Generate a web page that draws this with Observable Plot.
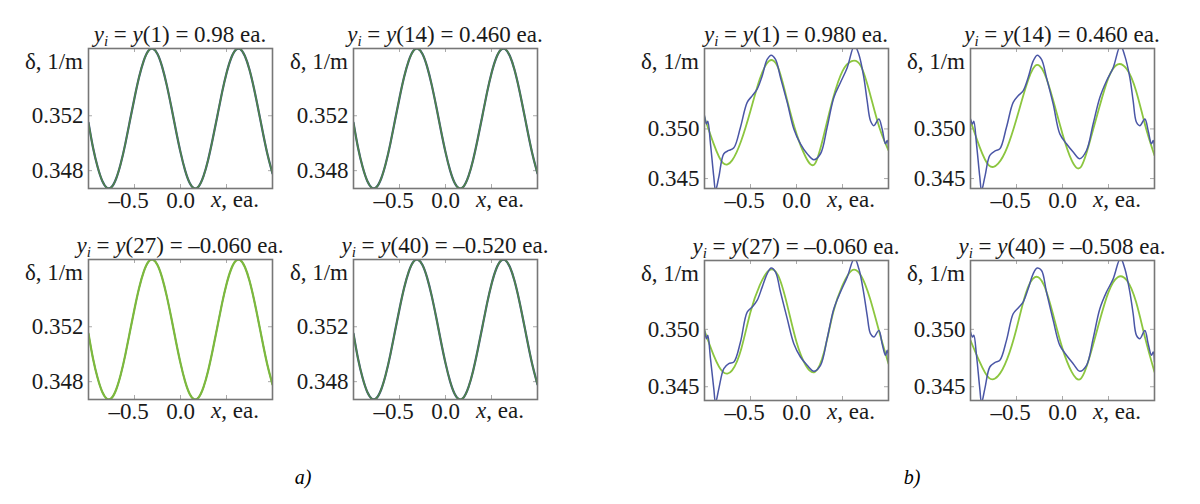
<!DOCTYPE html>
<html><head><meta charset="utf-8">
<script src="https://cdn.jsdelivr.net/npm/d3@7"></script>
<script src="https://cdn.jsdelivr.net/npm/@observablehq/plot@0.6"></script>
<style>
body{margin:0;background:#fff;}
#root{position:relative;width:1200px;height:504px;overflow:hidden;background:#fff;}
.panel{position:absolute;}
.cap{position:absolute;font-style:italic;font-size:20px;transform:translateX(-50%);}
</style></head><body><div id="root" style="font-family:'Liberation Serif'"></div>
<script>
// ---------- data ----------
const yIndex = [1, 14, 27, 40];
const yValueA = ["0.98", "0.460", "–0.060", "–0.520"];
const yValueB = ["0.980", "0.460", "–0.060", "–0.508"];
const xTicks = [-0.5, 0];
const xTickLabels = ["–0.5", "0.0"];
const aYTicks = [0.348, 0.352];
const bYTicks = [0.345, 0.350];
const aDomain = [0.3467, 0.3569];
const bTopDomain = [0.3440, 0.3581];
const bBottomDomain = [0.3438, 0.3560];

// panel a: curve (theory and solution coincide)
const aX = [-1,-0.95,-0.9,-0.85,-0.8,-0.75,-0.7,-0.65,-0.6,-0.55,-0.5,-0.45,-0.4,-0.35,-0.3,-0.25,-0.2,-0.15,-0.1,-0.05,0,0.05,0.1,0.15,0.2,0.25,0.3,0.35,0.4,0.45,0.5,0.55,0.6,0.65,0.7,0.75,0.8,0.85,0.9,0.95,1];
const aDelta = [0.35150,0.34965,0.34825,0.34725,0.34675,0.34680,0.34741,0.34850,0.34995,0.35163,0.35330,0.35482,0.35600,0.35672,0.35689,0.35650,0.35558,0.35425,0.35265,0.35095,0.34935,0.34802,0.34710,0.34671,0.34688,0.34760,0.34878,0.35030,0.35197,0.35365,0.35510,0.35619,0.35680,0.35685,0.35635,0.35535,0.35395,0.35231,0.35062,0.34906,0.34779];

// panel b: smooth (green) curves
const bGreenX = [-1,-0.9,-0.8,-0.7,-0.6,-0.5,-0.4,-0.3,-0.2,-0.1,0,0.1,0.2,0.3,0.4,0.5,0.6,0.7,0.8,0.9,1];
const b1Green = [0.35117,0.3485,0.34657,0.34683,0.34883,0.35183,0.355,0.35683,0.35617,0.35283,0.3495,0.34717,0.3465,0.3495,0.35317,0.35583,0.35683,0.35633,0.3535,0.35017,0.34783];
const b2Green = [0.35083,0.34817,0.34633,0.3465,0.34817,0.351,0.35417,0.35633,0.35567,0.35283,0.3495,0.34683,0.34617,0.34883,0.35217,0.35517,0.3565,0.356,0.35383,0.35033,0.34733];
const b3Green = [0.34991,0.34774,0.34629,0.34643,0.34832,0.35151,0.35383,0.35513,0.3547,0.35209,0.3489,0.34687,0.34629,0.34803,0.35151,0.35383,0.35513,0.3547,0.35267,0.34977,0.34701];
const b4Green = [0.34904,0.34716,0.34577,0.34594,0.34745,0.35006,0.3531,0.35455,0.35383,0.35122,0.34832,0.34629,0.34571,0.34774,0.35064,0.35325,0.35455,0.35426,0.35238,0.34919,0.34629];

// panel b: wavy (blue) curves
const bBlueX = [-1.000,-0.978,-0.964,-0.935,-0.899,-0.880,-0.844,-0.790,-0.736,-0.681,-0.609,-0.536,-0.482,-0.428,-0.373,-0.319,-0.275,-0.228,-0.174,-0.101,-0.029,0.043,0.116,0.188,0.261,0.333,0.406,0.478,0.551,0.630,0.678,0.732,0.768,0.804,0.841,0.895,0.931,0.967,0.986,1.000];
const b1Blue = [0.35133,0.3505,0.35077,0.3485,0.34517,0.3438,0.34517,0.3475,0.34783,0.3481,0.35017,0.35267,0.35333,0.354,0.35533,0.357,0.35743,0.357,0.35517,0.35267,0.35,0.3485,0.3475,0.3469,0.3475,0.35017,0.35317,0.35467,0.35617,0.3584,0.3575,0.35517,0.35283,0.35083,0.35033,0.351,0.35,0.3485,0.34883,0.34817];
const b2Blue = [0.3510,0.3505,0.35077,0.3485,0.34517,0.3438,0.34517,0.34733,0.34777,0.348,0.35017,0.35267,0.35333,0.35383,0.35517,0.35683,0.35743,0.357,0.35517,0.3525,0.3495,0.3485,0.34767,0.347,0.34783,0.3505,0.35317,0.35483,0.35617,0.3584,0.35733,0.35517,0.35283,0.35067,0.35033,0.351,0.34983,0.3485,0.34883,0.348];
const b3Blue = [0.34991,0.34919,0.34948,0.34745,0.34484,0.3436,0.34484,0.34658,0.34701,0.34716,0.3489,0.35151,0.35194,0.35252,0.35368,0.35484,0.35534,0.35499,0.35325,0.35093,0.34875,0.34759,0.34687,0.34635,0.34687,0.34919,0.3518,0.35325,0.35455,0.3562,0.35528,0.3531,0.35122,0.34962,0.34933,0.34991,0.34875,0.34774,0.34817,0.34716];
const b4Blue = [0.34977,0.34933,0.34948,0.34774,0.34484,0.3436,0.34484,0.34672,0.3471,0.3473,0.34904,0.35136,0.35186,0.35238,0.35354,0.35484,0.35534,0.35513,0.35325,0.35078,0.3486,0.34774,0.34701,0.34635,0.34687,0.34919,0.3518,0.35325,0.3544,0.3562,0.35528,0.35325,0.35136,0.34948,0.34919,0.34991,0.34875,0.34774,0.34803,0.34716];

// ---------- drawing ----------
const FONT = "'Liberation Serif'";
const FS = 23;
const BLUE = "#4a56a6", GREEN = "#8cc63f";
const FW = 184, FH = 140, ML = 84, MT = 40, MR = 10, MB = 40;
const root = document.getElementById("root");
const pts = (xs, ys) => xs.map((x, i) => ({x, y: ys[i]}));

function panel({left, top, domain, yTicks, idx, val, lines}) {
  const chart = Plot.plot({
    width: ML + FW + MR, height: MT + FH + MB,
    marginLeft: ML, marginTop: MT, marginRight: MR, marginBottom: MB,
    style: `background:transparent;font-family:${FONT};font-size:${FS}px;color:#1a1a1a;overflow:visible;`,
    x: {domain: [-1, 1]},
    y: {domain},
    marks: [
      Plot.axisX({ticks: xTicks, tickSize: 0, tickPadding: 3, label: null, tickFormat: d => xTickLabels[xTicks.indexOf(d)]}),
      Plot.axisY({ticks: yTicks, tickSize: 0, tickPadding: 5, label: null, tickFormat: d3.format(".3f")}),
      Plot.tickX([...xTicks, 0.5], {x: d => d, insetTop: FH - 4, stroke: "#aaa"}),
      Plot.tickX([...xTicks, 0.5], {x: d => d, insetBottom: FH - 4, stroke: "#aaa"}),
      Plot.tickY(yTicks, {y: d => d, insetRight: FW - 4, stroke: "#aaa"}),
      Plot.tickY(yTicks, {y: d => d, insetLeft: FW - 4, stroke: "#aaa"}),
      ...lines,
      Plot.frame({stroke: "#777", strokeWidth: 1.6})
    ]
  });
  const svg = d3.select(chart);
  svg.attr("font-family", "Liberation Serif").attr("font-size", FS);
  // hang the dash of the negative tick label to the left of its tick
  svg.selectAll("text").filter(function () { return this.textContent === xTickLabels[0]; })
    .attr("transform", function () { return (this.getAttribute("transform") || "") + " translate(-6,0)"; });
  const t = svg.append("text").attr("x", ML + FW / 2).attr("y", MT - 6)
    .attr("text-anchor", "middle").attr("font-size", FS).attr("fill", "#1a1a1a");
  t.append("tspan").attr("font-style", "italic").text("y");
  t.append("tspan").attr("font-style", "italic").attr("font-size", 15).attr("dy", 4).text("i");
  t.append("tspan").attr("dy", -4).text(" = ");
  t.append("tspan").attr("font-style", "italic").text("y");
  t.append("tspan").text(`(${idx}) = ${val} ea.`);
  svg.append("text").attr("x", ML - 5).attr("y", MT + 14).attr("dy", "0.32em")
    .attr("text-anchor", "end").attr("font-size", FS).attr("fill", "#1a1a1a").text("δ, 1/m");
  const xl = svg.append("text").attr("x", ML + 147).attr("y", MT + FH + 3).attr("dy", "0.71em")
    .attr("text-anchor", "middle").attr("font-size", FS).attr("fill", "#1a1a1a");
  xl.append("tspan").attr("font-style", "italic").text("x");
  xl.append("tspan").text(", ea.");
  svg.selectAll("text").attr("font-family", "Liberation Serif").style("font-family", FONT);
  chart.classList.add("panel");
  chart.style.position = "absolute";
  chart.style.left = (left - ML) + "px";
  chart.style.top = (top - MT) + "px";
  root.appendChild(chart);
}

const aFrames = [[88, 48], [353, 48], [88, 259], [353, 259]];
aFrames.forEach(([l, t], i) => {
  const data = pts(aX, aDelta);
  const lines = i === 2
    ? [Plot.line(data, {x: "x", y: "y", stroke: BLUE, strokeWidth: 1.4, curve: "natural", clip: true}),
       Plot.line(data, {x: "x", y: "y", stroke: "#7dba3c", strokeWidth: 2.2, curve: "natural", clip: true})]
    : [Plot.line(data, {x: "x", y: "y", stroke: "#34477f", strokeWidth: 2.2, curve: "natural", clip: true}),
       Plot.line(data, {x: "x", y: "y", stroke: "#5a9a3a", strokeWidth: 1.6, strokeOpacity: 0.75, curve: "natural", clip: true})];
  panel({left: l, top: t, domain: aDomain, yTicks: aYTicks, idx: yIndex[i], val: yValueA[i], lines});
});

const bFrames = [[704, 48], [970, 48], [704, 260], [970, 260]];
const bGreens = [b1Green, b2Green, b3Green, b4Green];
const bBlues = [b1Blue, b2Blue, b3Blue, b4Blue];
bFrames.forEach(([l, t], i) => {
  const lines = [
    Plot.line(pts(bGreenX, bGreens[i]), {x: "x", y: "y", stroke: GREEN, strokeWidth: 1.8, curve: "natural", clip: true}),
    Plot.line(pts(bBlueX, bBlues[i]), {x: "x", y: "y", stroke: BLUE, strokeWidth: 1.5, curve: "catmull-rom", clip: true})
  ];
  panel({left: l, top: t, domain: i < 2 ? bTopDomain : bBottomDomain, yTicks: bYTicks, idx: yIndex[i], val: yValueB[i], lines});
});

[["a)", 303], ["b)", 912]].forEach(([s, x]) => {
  const d = document.createElement("div");
  d.className = "cap"; d.textContent = s;
  d.style.fontFamily = FONT;
  d.style.left = x + "px"; d.style.top = "466px";
  root.appendChild(d);
});
</script></body></html>
